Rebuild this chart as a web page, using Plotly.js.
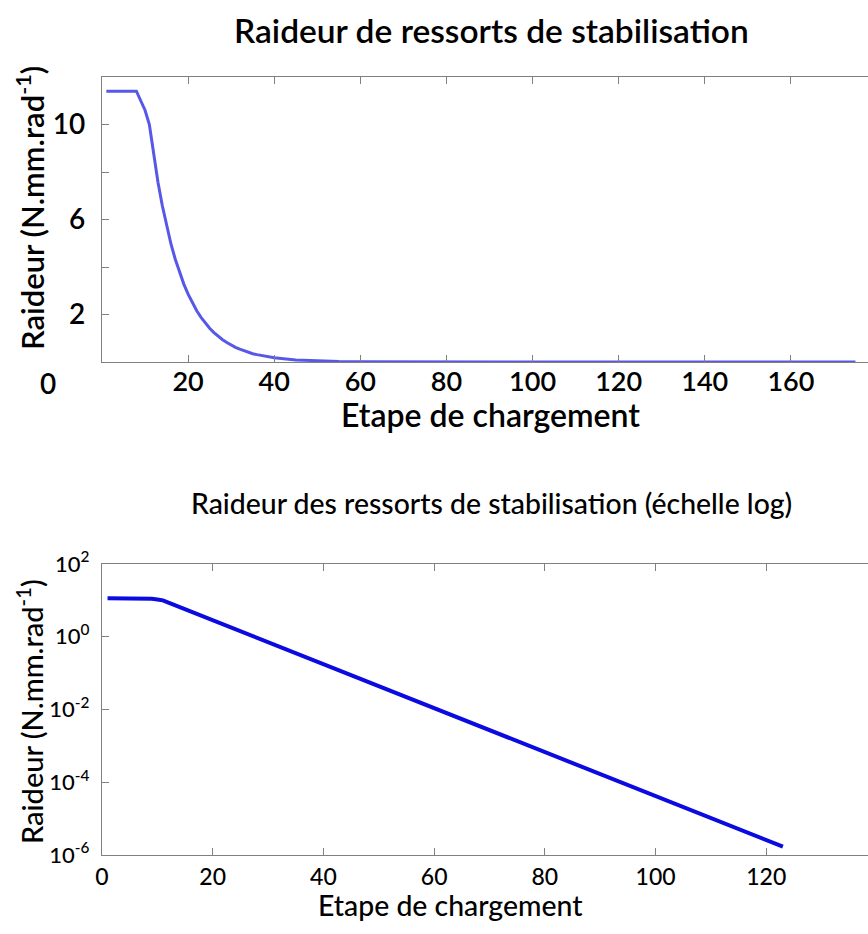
<!DOCTYPE html>
<html>
<head>
<meta charset="utf-8">
<script src="https://cdn.plot.ly/plotly-3.0.1.min.js"></script>
<style>
html,body{margin:0;padding:0;overflow:hidden;background:#fff;}
#chart{width:878px;height:934px;}
</style>
</head>
<body>
<div id="chart"></div>
<script>
// Etape de chargement (loading steps) and stabilisation spring stiffness
const steps = [1,2,3,4,5,6,7,8,9,10,11,12,13,14,15,16,17,18,19,20,21,22,23,24,25,26,27,28,29,30,31,32,33,34,35,36,37,38,39,40,45,50,55,60,65,70,75,80,85,90,95,100,105,110,115,120,123];
const raideur = [11.4,11.4,11.4,11.4,11.4,11.4,11.4,11.4,11.0,10.6,10.0,8.7,7.57,6.59,5.73,4.98,4.34,3.77,3.28,2.86,2.48,2.16,1.88,1.64,1.42,1.24,1.08,0.94,0.82,0.71,0.62,0.54,0.47,0.41,0.35,0.31,0.27,0.23,0.20,0.18,0.088,0.044,0.022,0.011,0.0054,0.0027,0.0013,6.7e-4,3.3e-4,1.7e-4,8.3e-5,4.1e-5,2.1e-5,1.0e-5,5.1e-6,2.5e-6,1.7e-6];
// linear chart continues at ~0 after the last log point
const tailSteps = [124,175];
const tailRaideur = [0,0];

const topXTicks = [20,40,60,80,100,120,140,160];
const topYTicks = [2,4,6,8,10];
const topYLabels = ['2','','6','','10'];
const logXTicks = [0,20,40,60,80,100,120];
const logYTicks = [1e2,1,1e-2,1e-4,1e-6];
const logYLabels = ['10<sup>2</sup>','10<sup>0</sup>','10<sup>-2</sup>','10<sup>-4</sup>','10<sup>-6</sup>'];

const titleTop = 'Raideur de ressorts de stabilisation';
const titleLog = 'Raideur des ressorts de stabilisation (échelle log)';
const xTitle = 'Etape de chargement';
const yTitle = 'Raideur (N.mm.rad<sup>-1</sup>)';

const H = 934, L = 102, PW = 775;
const FONT = 'Lato, Open Sans, sans-serif';
const px = v => (v - L) / PW;      // page x -> paper x
const py = v => 1 - v / H;         // page y -> paper y

const traces = [
  {x: steps.concat(tailSteps), y: raideur.concat(tailRaideur), type:'scatter', mode:'lines',
   line:{color:'rgb(88,88,232)', width:3}, xaxis:'x', yaxis:'y', hoverinfo:'x+y'},
  {x: steps, y: raideur, type:'scatter', mode:'lines',
   line:{color:'rgb(10,10,225)', width:4}, xaxis:'x2', yaxis:'y2', hoverinfo:'x+y'}
];

const axisCommon = {showline:true, linecolor:'#808080', linewidth:1.2, mirror:'ticks',
  ticks:'inside', ticklen:7, tickcolor:'#808080', showgrid:false, zeroline:false};

function ann(text, x, y, font, extra) {
  return Object.assign({text:text, xref:'paper', yref:'paper', x:px(x), y:py(y),
    xanchor:'center', yanchor:'middle', showarrow:false, font:Object.assign({family:FONT, color:'#000'}, font)}, extra||{});
}

const layout = {
  width:878, height:H,
  margin:{l:L, r:1, t:0, b:0},
  paper_bgcolor:'#fff', plot_bgcolor:'#fff',
  showlegend:false,
  font:{family:FONT, color:'#000'},
  xaxis: Object.assign({}, axisCommon, {
    anchor:'y', range:[0,180], tickvals:topXTicks,
    tickfont:{size:27, weight:600}, ticklabelstandoff:-5
  }),
  yaxis: Object.assign({}, axisCommon, {
    anchor:'x', domain:[py(362), py(77)], range:[0,12],
    tickvals:topYTicks, ticktext:topYLabels,
    tickfont:{size:28, weight:600}, ticklabelstandoff:10
  }),
  xaxis2: Object.assign({}, axisCommon, {
    anchor:'y2', range:[0,140], tickvals:logXTicks,
    tickfont:{size:23, weight:500}, ticklabelstandoff:1
  }),
  yaxis2: Object.assign({}, axisCommon, {
    anchor:'x2', type:'log', domain:[py(855), py(564)], range:[-6,2],
    tickvals:logYTicks, ticktext:logYLabels,
    tickfont:{size:22, weight:500}, ticklabelstandoff:7
  }),
  annotations:[
    ann(titleTop, 492, 30, {size:33.5, weight:600}),
    ann(xTitle, 490, 414, {size:32, weight:600}),
    ann(yTitle, 30, 208, {size:31, weight:600}, {textangle:-90}),
    ann('0', 48, 383, {size:28, weight:600}),
    ann(titleLog, 492, 503, {size:28.4, weight:500}),
    ann(xTitle, 450, 905, {size:28.4, weight:500}),
    ann(yTitle, 30, 712, {size:29, weight:500}, {textangle:-90})
  ]
};

Plotly.newPlot('chart', traces, layout, {displayModeBar:false, staticPlot:true});
</script>
</body>
</html>
